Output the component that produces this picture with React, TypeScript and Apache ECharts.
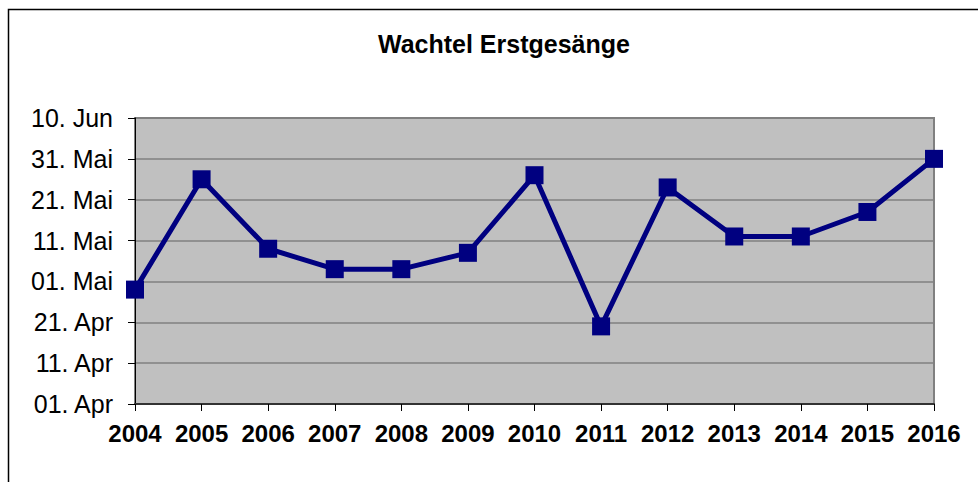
import React, { useEffect, useRef } from "react";
import * as echarts from "echarts";

const TITLE = "Wachtel Erstgesänge";
const years = ["2004", "2005", "2006", "2007", "2008", "2009", "2010", "2011", "2012", "2013", "2014", "2015", "2016"];
// first song, in days after 01. Apr
const firstSongDay = [28, 55, 38, 33, 33, 37, 56, 19, 53, 41, 41, 47, 60];
const yTickLabels = ["01. Apr", "11. Apr", "21. Apr", "01. Mai", "11. Mai", "21. Mai", "31. Mai", "10. Jun"];

export default function App() {
  const ref = useRef<HTMLDivElement>(null);
  useEffect(() => {
    if (!ref.current) return;
    const chart = echarts.init(ref.current, null, { renderer: "svg" });
    const font = "'Liberation Sans', Arial, sans-serif";
    chart.setOption({
      animation: false,
      backgroundColor: "#ffffff",
      title: {
        text: TITLE,
        left: 373,
        top: 26,
        textStyle: { fontFamily: font, fontSize: 25, fontWeight: "bold", color: "#000" },
      },
      graphic: [
        {
          type: "rect",
          shape: { x: 8.5, y: 9.5, width: 1200, height: 800 },
          style: { fill: "none", stroke: "#000", lineWidth: 1.5 },
          z: -1,
        },
      ],
      grid: {
        left: 135,
        top: 118,
        right: 44,
        bottom: 78,
        show: true,
        backgroundColor: "#C0C0C0",
        borderColor: "#808080",
        borderWidth: 2,
      },
      xAxis: {
        type: "category",
        data: years,
        boundaryGap: false,
        axisLine: { show: true, lineStyle: { color: "#333", width: 2 } },
        axisTick: { show: true, interval: 0, length: 7, lineStyle: { color: "#000", width: 1 } },
        axisLabel: {
          interval: 0,
          fontFamily: font,
          fontSize: 24,
          fontWeight: "bold",
          color: "#000",
          margin: 17,
        },
        splitLine: { show: false },
      },
      yAxis: {
        type: "value",
        min: 0,
        max: 70,
        interval: 10,
        axisLine: { show: true, lineStyle: { color: "#000", width: 1 } },
        axisTick: { show: true, length: 7, lineStyle: { color: "#000", width: 1 } },
        axisLabel: {
          fontFamily: font,
          fontSize: 25,
          color: "#000",
          margin: 22,
          formatter: (v: number) => yTickLabels[Math.round(v / 10)] ?? "",
        },
        splitLine: { show: true, lineStyle: { color: "#808080", width: 1.5 } },
      },
      series: [
        {
          type: "line",
          data: firstSongDay,
          symbol: "rect",
          symbolSize: 18,
          lineStyle: { color: "#000080", width: 5 },
          itemStyle: { color: "#000080" },
          z: 5,
        },
      ],
    });
    return () => chart.dispose();
  }, []);
  return (
    <div
      ref={ref}
      style={{ position: "fixed", left: 0, top: 0, width: 978, height: 482 }}
    />
  );
}
